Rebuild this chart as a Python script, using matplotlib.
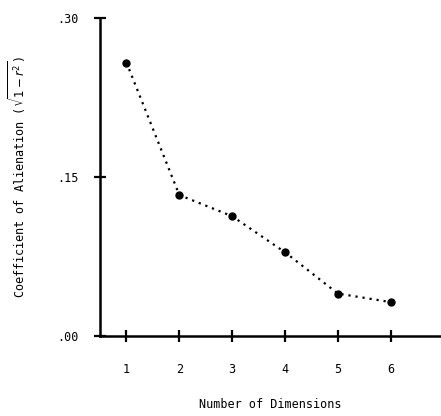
import matplotlib.pyplot as plt

# values
dims = [1, 2, 3, 4, 5, 6]
alienation = [0.258, 0.133, 0.113, 0.079, 0.040, 0.032]
yticks = [0.00, 0.15, 0.30]
ytick_labels = ['.00', '.15', '.30']

plt.rcParams['font.family'] = ['DejaVu Sans Mono']

fig = plt.figure(figsize=(4.41, 4.16), dpi=100)
ax = fig.add_axes([0.2268, 0.1923, 0.7732, 0.7644])

ax.plot(dims, alienation, color='black', linestyle=(0, (1, 2.2)), linewidth=1.6,
        marker='o', markersize=5, markerfacecolor='black')

ax.set_xlim(0.5, 6.95)
ax.set_ylim(0, 0.30)
ax.set_xticks(dims)
ax.set_xticklabels([str(d) for d in dims])
ax.set_yticks(yticks)
ax.set_yticklabels(ytick_labels)

for s in ['top', 'right']:
    ax.spines[s].set_visible(False)
for s in ['left', 'bottom']:
    ax.spines[s].set_linewidth(1.8)
ax.spines['left'].set_clip_on(False)
ax.spines['bottom'].set_clip_on(False)

ax.tick_params(axis='both', direction='inout', length=9, width=1.6, labelsize=8.5)
ax.tick_params(axis='x', pad=15)
ax.tick_params(axis='y', pad=11)

ax.set_xlabel('Number of Dimensions', fontsize=8.5, labelpad=16)
ax.set_ylabel(r'Coefficient of Alienation ($\sqrt{1-r^2}$)', fontsize=8.5, labelpad=21)

fig.savefig('out.png', dpi=100)
